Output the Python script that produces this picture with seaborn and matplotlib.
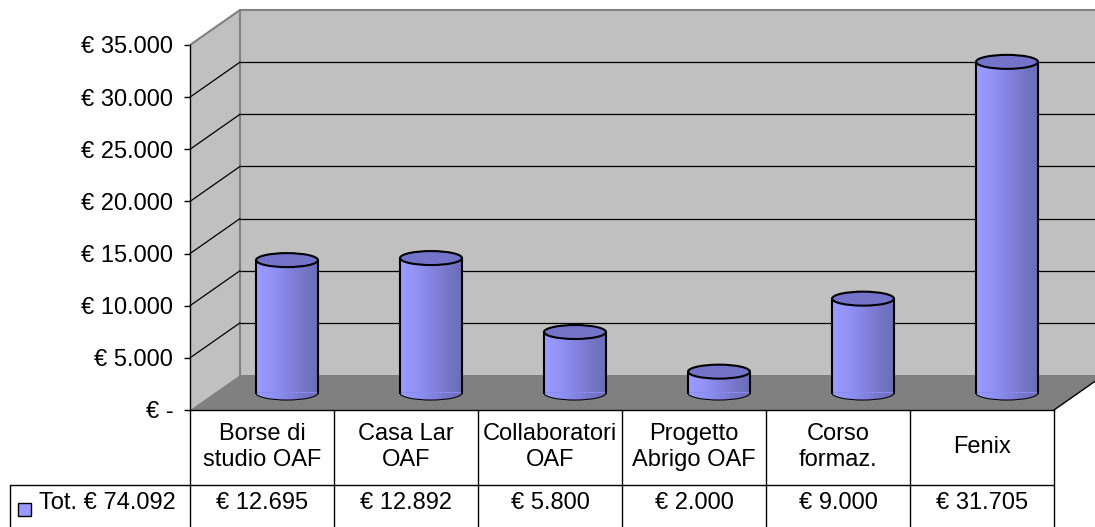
import numpy as np
import pandas as pd
import matplotlib
matplotlib.use("Agg")
import matplotlib.pyplot as plt
import seaborn as sns
from matplotlib.patches import Rectangle, Polygon, Ellipse
from matplotlib.transforms import ScaledTranslation
from matplotlib.colors import LinearSegmentedColormap


# ==========================
# data
# ==========================
categories = ["Borse di\nstudio OAF", "Casa Lar\nOAF", "Collaboratori\nOAF",
              "Progetto\nAbrigo OAF", "Corso\nformaz.", "Fenix"]
values = [12695, 12892, 5800, 2000, 9000, 31705]
yticks = [0, 5000, 10000, 15000, 20000, 25000, 30000, 35000]
series_name = "Tot."


def euro(v):
    if v == 0:
        return "€ -"
    return "€ " + f"{v:,}".replace(",", ".")


# ==========================
# figure / axes
# ==========================
sns.set_style("white")
plt.rcParams["font.family"] = ["Liberation Sans", "DejaVu Sans"]
plt.rcParams["text.color"] = "black"
plt.rcParams["ytick.color"] = "black"
plt.rcParams["ytick.labelcolor"] = "black"
FS = 17

W, H = 1095, 527
fig = plt.figure(figsize=(W / 100, H / 100), dpi=100)
ax_left, ax_right, ax_bottom, ax_top = 190, 1054, 410, 45
ax = fig.add_axes([ax_left / W, 1 - ax_bottom / H,
                   (ax_right - ax_left) / W, (ax_bottom - ax_top) / H])
ax_w = ax_right - ax_left
ax_h = ax_bottom - ax_top

# depth of the 3d box (pixels)
DX, DY = 50, 35
dxa, dya = DX / ax_w, DY / ax_h
half_off = ScaledTranslation(DX / 200, DY / 200, fig.dpi_scale_trans)

# walls and floor
wall = "#C0C0C0"
ax.add_patch(Rectangle((dxa, dya), 1, 1, transform=ax.transAxes,
                       facecolor=wall, edgecolor="none", zorder=0, clip_on=False))
ax.add_patch(Polygon([(0, 0), (0, 1), (dxa, 1 + dya), (dxa, dya)], closed=True,
                     transform=ax.transAxes, facecolor=wall, edgecolor="none",
                     zorder=0, clip_on=False))
ax.add_patch(Polygon([(0, 0), (1, 0), (1 + dxa, dya), (dxa, dya)], closed=True,
                     transform=ax.transAxes, facecolor="#808080", edgecolor="none",
                     zorder=0.5, clip_on=False))
ax.plot([0, dxa, 1 + dxa], [1, 1 + dya, 1 + dya], transform=ax.transAxes,
        color="#808080", lw=1.5, clip_on=False, zorder=0.6)
ax.plot([dxa, dxa], [dya, 1 + dya], transform=ax.transAxes,
        color="#808080", lw=1.5, clip_on=False, zorder=0.6)
ax.plot([1, 1 + dxa], [0, dya], transform=ax.transAxes,
        color="black", lw=1, clip_on=False, zorder=0.6)

# gridlines on back wall + side wall
ymax = yticks[-1]
for t in yticks[1:-1]:
    ya = t / ymax
    ax.plot([dxa, 1 + dxa], [ya + dya, ya + dya], transform=ax.transAxes,
            color="black", lw=0.9, clip_on=False, zorder=1)
    ax.plot([0, dxa], [ya, ya + dya], transform=ax.transAxes,
            color="black", lw=0.9, clip_on=False, zorder=1)

# ==========================
# cylinders
# ==========================
df = pd.DataFrame({"cat": categories, "val": values})
body = "#8A8AEE"
n_before = len(ax.patches)
sns.barplot(data=df, x="cat", y="val", color=body, width=0.43,
            edgecolor="none", linewidth=0, saturation=1, ax=ax, zorder=3)
bars = list(ax.patches)[n_before:]

cmap = LinearSegmentedColormap.from_list(
    "cyl", ["#9C9CFF", "#9393F8", "#8484E2", "#7777CC", "#6C6CB6"])
grad = np.linspace(0, 1, 64).reshape(1, -1)
eh = 14 * ymax / ax_h  # ellipse height in data units
cyl_tr = ax.transData + half_off

for bar in bars:
    bar.set_transform(cyl_tr)
    bar.set_clip_on(False)
    x0, w, h = bar.get_x(), bar.get_width(), bar.get_height()
    cx = x0 + w / 2
    bot = Ellipse((cx, 0), w, eh, transform=cyl_tr, facecolor=body,
                  edgecolor="black", lw=1.5, zorder=2, clip_on=False)
    ax.add_patch(bot)
    im = ax.imshow(grad, extent=[x0, x0 + w, -eh, h], aspect="auto", cmap=cmap,
                   transform=cyl_tr, zorder=3.1, interpolation="bilinear")
    im.set_clip_path(bar)
    im2 = ax.imshow(grad, extent=[x0, x0 + w, -eh, h], aspect="auto", cmap=cmap,
                    transform=cyl_tr, zorder=2.1, interpolation="bilinear")
    im2.set_clip_path(bot)
    ax.plot([x0, x0], [0, h], transform=cyl_tr, color="black", lw=1.5,
            zorder=3.2, clip_on=False)
    ax.plot([x0 + w, x0 + w], [0, h], transform=cyl_tr, color="black", lw=1.5,
            zorder=3.2, clip_on=False)
    ax.add_patch(Ellipse((cx, h), w, eh, transform=cyl_tr, facecolor="#7373C9",
                         edgecolor="black", lw=1.5, zorder=4, clip_on=False))

ax.set_xlim(-0.5, len(categories) - 0.5)
ax.set_ylim(0, ymax)

# axes styling
for s in ["top", "right"]:
    ax.spines[s].set_visible(False)
for s in ["left", "bottom"]:
    ax.spines[s].set_color("black")
    ax.spines[s].set_linewidth(1)
ax.spines["left"].set_zorder(5)
ax.patch.set_visible(False)
ax.set_yticks(yticks)
ax.set_yticklabels([euro(v) for v in yticks], fontsize=FS, color="black")
ax.tick_params(axis="y", left=True, length=4, width=1, color="black", pad=8)
ax.set_xticks([])
ax.set_xlabel("")
ax.set_ylabel("")

# ==========================
# data table
# ==========================
row_y = -(485 - ax_bottom) / ax_h
end_y = -(H - ax_bottom + 5) / ax_h
xtr = ax.get_xaxis_transform()
for i in range(len(categories) + 1):
    ax.plot([i - 0.5, i - 0.5], [0, end_y], transform=xtr, color="black",
            lw=1, clip_on=False)
lx = (10 - ax_left) / ax_w
ax.plot([lx, 1], [row_y, row_y], transform=ax.transAxes, color="black",
        lw=1, clip_on=False)
ax.plot([lx, lx], [row_y, end_y], transform=ax.transAxes, color="black",
        lw=1, clip_on=False)

head_y = -(447 - ax_bottom) / ax_h
val_y = -(503 - ax_bottom) / ax_h
for i, (c, v) in enumerate(zip(categories, values)):
    ax.text(i, head_y, c, transform=xtr, ha="center", va="center",
            multialignment="center", linespacing=1.25, fontsize=FS)
    ax.text(i, val_y, euro(v), transform=xtr, ha="center", va="center",
            fontsize=FS)

ax.add_patch(Rectangle(((18 - ax_left) / ax_w, -(516 - ax_bottom) / ax_h),
                       13 / ax_w, 13 / ax_h, transform=ax.transAxes,
                       facecolor="#9999FF", edgecolor="black", lw=1,
                       clip_on=False))
ax.text((39 - ax_left) / ax_w, val_y, f"{series_name} {euro(sum(values))}",
        transform=ax.transAxes, ha="left", va="center", fontsize=FS)

fig.savefig("out.png", dpi=100)
